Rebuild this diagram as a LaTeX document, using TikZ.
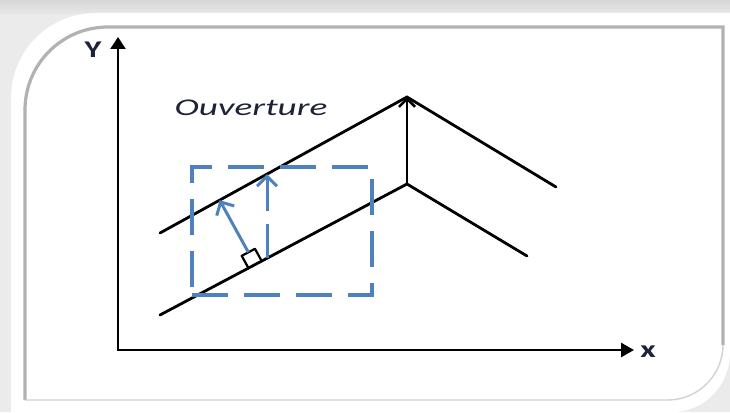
\documentclass[tikz,border=0pt]{standalone}
\usepackage{fontspec}
\newfontfamily\carl{Carlito}
\usetikzlibrary{calc,arrows.meta}
\definecolor{obblue}{HTML}{4F81BD}
\definecolor{txtc}{HTML}{1E2238}
\tikzset{
  axisline/.style={line width=2.8pt, black, {Triangle[length=12pt,width=15pt]}-{Triangle[length=13pt,width=14pt]}},
  blk/.style={line width=2.8pt, black, line cap=round},
  bluedash/.style={draw=obblue, line width=3.4pt, dash pattern=on 36pt off 16pt},
  bluearrow/.style={draw=obblue, line width=3pt, -{Straight Barb[length=10pt,width=20pt,line width=3pt]}},
  lbl/.style={inner sep=0pt, text=txtc, font=\carl\fontsize{24}{24}\selectfont}
}
\begin{document}
\begin{tikzpicture}[x=1pt,y=-1pt]
\useasboundingbox (0,0) rectangle (730,412);
% frame
\fill[gray!16] (0,0) rectangle (730,412);
\shade[top color=gray!32, bottom color=gray!18] (0,0) rectangle (730,14);
\fill[white] (11,412) -- (11,98) .. controls (11,51) and (49,13) .. (96,13) -- (730,13) -- (730,352) .. controls (730,385) and (705,412) .. (672,412) -- cycle;
\draw[gray!60, line width=3.2pt] (25,400) -- (25,110) .. controls (25,64) and (62,27) .. (108,27) -- (723,27) -- (723,345);
\draw[gray!35, line width=1.4pt] (723,345) .. controls (723,375) and (698,400) .. (668,400) -- (25,400);
% points
\coordinate (O) at (118,350);
\coordinate (Ytip) at (118,37);
\coordinate (Xtip) at (634,350);
\coordinate (A) at (160,315);
\coordinate (B) at (407,184);
\coordinate (U1) at (160,233);
\coordinate (U2) at (407,97);
\coordinate (Bend) at (527,256);
\coordinate (Uend) at (556,187);
% axes
\draw[axisline] (Ytip) -- (O) -- (Xtip);
\node[lbl] (ylab) at (93,50) {\scalebox{1.35}[1]{\bfseries Y}};
\node[lbl] (xlab) at (648,352) {\scalebox{1.4}[1]{\bfseries x}};
% lines
\draw[blk, line join=miter] (U1) -- (U2) -- (Uend);
\draw[blk, line join=miter] (A) -- (B) -- (Bend);
\draw[line width=2.8pt, -{Straight Barb[length=8pt,width=16pt,line width=2.6pt]}] (B) -- (U2);
% label
\node[lbl] (ouv) at (251,108) {\scalebox{1.55}[1]{\itshape Ouverture}};
% dashed box
\node[bluedash, minimum width=180pt, minimum height=128pt, inner sep=0pt] (box) at (282,231) {};
% vertical dashed arrow
\coordinate (V1) at ($(A)!0.4332!(B)$);
\coordinate (V2) at ($(U1)!0.4332!(U2)$);
\draw[bluearrow, dash pattern=on 34pt off 13pt] (V1) -- (V2);
% perpendicular arrow
\coordinate (F) at ($(A)!0.385!(B)$);
\coordinate (T) at ($(U1)!(F)!(U2)$);
\coordinate (P) at ($(F)!14pt!(T)$);
\coordinate (s1) at ($(F)!7.5pt!(B)$);
\coordinate (s2) at ($(F)!7.5pt!(A)$);
\draw[black, line width=2.2pt, line join=round] (s1) -- ($(s1)+(P)-(F)$) -- ($(s2)+(P)-(F)$) -- (s2);
\draw[bluearrow] (P) -- (T);
\end{tikzpicture}
\end{document}
